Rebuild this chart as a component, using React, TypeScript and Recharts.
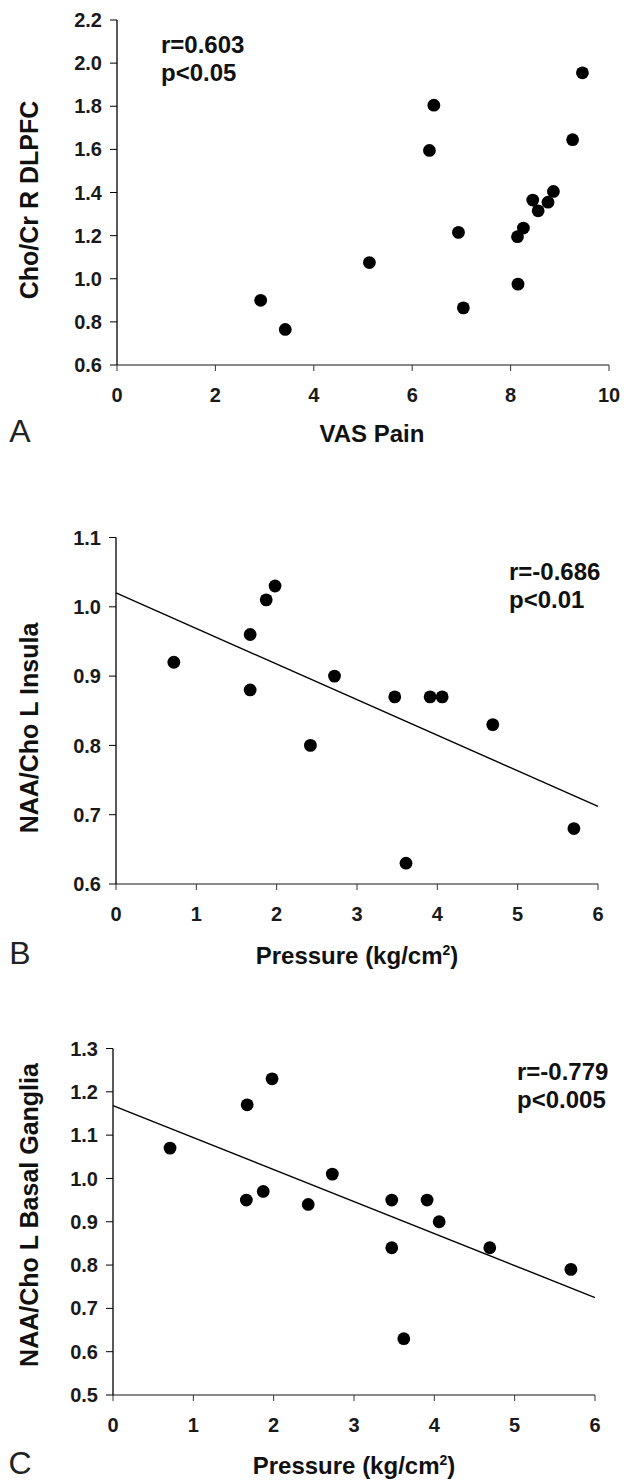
import React from "react";
import { ScatterChart, Scatter, XAxis, YAxis, ReferenceLine } from "recharts";

// Panel A: VAS pain vs Cho/Cr R DLPFC
const vasPain = [2.92, 3.42, 5.13, 6.35, 6.44, 6.94, 7.04, 8.14, 8.15, 8.26, 8.45, 8.56, 8.76, 8.87, 9.26, 9.46];
const choCrDlpfc = [0.9, 0.765, 1.075, 1.595, 1.805, 1.215, 0.865, 1.195, 0.975, 1.235, 1.365, 1.315, 1.355, 1.405, 1.645, 1.955];
const ticksA_x = [0, 2, 4, 6, 8, 10];
const ticksA_y = [0.6, 0.8, 1.0, 1.2, 1.4, 1.6, 1.8, 2.0, 2.2];

// Panel B: pressure vs NAA/Cho L insula
const pressureB = [0.72, 1.67, 1.67, 1.87, 1.98, 2.42, 2.72, 3.47, 3.61, 3.91, 4.06, 4.69, 5.7];
const naaChoInsula = [0.92, 0.96, 0.88, 1.01, 1.03, 0.8, 0.9, 0.87, 0.63, 0.87, 0.87, 0.83, 0.68];
const trendB = [{ x: 0, y: 1.02 }, { x: 6, y: 0.712 }];
const ticksB_y = [0.6, 0.7, 0.8, 0.9, 1.0, 1.1];

// Panel C: pressure vs NAA/Cho L basal ganglia
const pressureC = [0.71, 1.66, 1.67, 1.87, 1.98, 2.43, 2.73, 3.47, 3.47, 3.62, 3.91, 4.06, 4.69, 5.7];
const naaChoBasal = [1.07, 0.95, 1.17, 0.97, 1.23, 0.94, 1.01, 0.95, 0.84, 0.63, 0.95, 0.9, 0.84, 0.79];
const trendC = [{ x: 0, y: 1.168 }, { x: 6, y: 0.725 }];
const ticksC_y = [0.5, 0.6, 0.7, 0.8, 0.9, 1.0, 1.1, 1.2, 1.3];

const pressureTicks = [0, 1, 2, 3, 4, 5, 6];

const font = "'Liberation Sans', Arial, Helvetica, sans-serif";

const toPoints = (xs: number[], ys: number[]) => xs.map((x, i) => ({ x, y: ys[i] }));

const Dot = (p: any) => <circle cx={p.cx} cy={p.cy} r={6.4} fill="#000" />;

type PanelProps = {
  top: number;
  height: number;
  margin: { top: number; right: number; bottom: number; left: number };
  data: { x: number; y: number }[];
  xDomain: [number, number];
  xTicks: number[];
  yDomain: [number, number];
  yTicks: number[];
  trend?: { x: number; y: number }[];
  letter: string;
  letterY: number;
  xTitle: React.ReactNode;
  xTitleX: number;
  xTitleY: number;
  yTitle: string;
  yTitleY: number;
  stats: [string, string];
  statsX: number;
  statsY: number;
};

const tickStyle = { fill: "#1a1a1a", fontSize: 20, fontWeight: 700, fontFamily: font };

const Panel = (p: PanelProps) => (
  <div style={{ position: "absolute", left: 0, top: p.top, width: 627, height: p.height }}>
    <ScatterChart width={627} height={p.height} margin={p.margin}>
      <XAxis
        type="number"
        dataKey="x"
        domain={p.xDomain}
        ticks={p.xTicks}
        interval={0}
        allowDataOverflow
        axisLine={{ stroke: "#8a8a8a", strokeWidth: 2 }}
        tickLine={{ stroke: "#333" }}
        tickSize={6}
        tickMargin={17}
        height={50}
        tick={tickStyle}
      />
      <YAxis
        type="number"
        dataKey="y"
        domain={p.yDomain}
        ticks={p.yTicks}
        interval={0}
        allowDataOverflow
        tickFormatter={(v: number) => v.toFixed(1)}
        axisLine={{ stroke: "#000", strokeWidth: 1.3 }}
        tickLine={{ stroke: "#000" }}
        tickSize={7}
        tickMargin={8}
        width={60}
        tick={tickStyle}
      />
      {p.trend && (
        <ReferenceLine
          segment={p.trend}
          stroke="#000"
          strokeWidth={1.4}
          ifOverflow="visible"
        />
      )}
      <Scatter data={p.data} shape={Dot} isAnimationActive={false} />
    </ScatterChart>
    <svg
      width={627}
      height={p.height}
      style={{ position: "absolute", left: 0, top: 0, pointerEvents: "none" }}
      fontFamily={font}
    >
      <text x={20} y={p.letterY} fontSize={32} textAnchor="middle" fill="#222">
        {p.letter}
      </text>
      <text x={p.xTitleX} y={p.xTitleY} fontSize={24} fontWeight={700} textAnchor="middle" fill="#111">
        {p.xTitle}
      </text>
      <text
        transform={`translate(38, ${p.yTitleY}) rotate(-90)`}
        fontSize={25}
        fontWeight={700}
        textAnchor="middle"
        fill="#111"
      >
        {p.yTitle}
      </text>
      <text x={p.statsX} y={p.statsY} fontSize={24} fontWeight={700} fill="#111">
        {p.stats[0]}
      </text>
      <text x={p.statsX} y={p.statsY + 28} fontSize={24} fontWeight={700} fill="#111">
        {p.stats[1]}
      </text>
    </svg>
  </div>
);

const pressureTitle = (
  <>
    Pressure (kg/cm
    <tspan fontSize={14} dy={-9}>2</tspan>
    <tspan dy={9}>)</tspan>
  </>
);

export default function App() {
  return (
    <div style={{ position: "absolute", left: 0, top: 0, width: 627, height: 1481, background: "#fff" }}>
      <Panel
        top={0}
        height={470}
        margin={{ top: 20, right: 18, bottom: 55, left: 57 }}
        data={toPoints(vasPain, choCrDlpfc)}
        xDomain={[0, 10]}
        xTicks={ticksA_x}
        yDomain={[0.6, 2.2]}
        yTicks={ticksA_y}
        letter="A"
        letterY={442}
        xTitle="VAS Pain"
        xTitleX={372}
        xTitleY={442}
        yTitle="Cho/Cr R DLPFC"
        yTitleY={200}
        stats={["r=0.603", "p<0.05"]}
        statsX={161}
        statsY={53}
      />
      <Panel
        top={470}
        height={530}
        margin={{ top: 67.5, right: 29, bottom: 66, left: 56 }}
        data={toPoints(pressureB, naaChoInsula)}
        xDomain={[0, 6]}
        xTicks={pressureTicks}
        yDomain={[0.6, 1.1]}
        yTicks={ticksB_y}
        trend={trendB}
        letter="B"
        letterY={494}
        xTitle={pressureTitle}
        xTitleX={357}
        xTitleY={494}
        yTitle="NAA/Cho L Insula"
        yTitleY={258}
        stats={["r=-0.686", "p<0.01"]}
        statsX={509}
        statsY={110}
      />
      <Panel
        top={1000}
        height={481}
        margin={{ top: 48.5, right: 32, bottom: 36, left: 53 }}
        data={toPoints(pressureC, naaChoBasal)}
        xDomain={[0, 6]}
        xTicks={pressureTicks}
        yDomain={[0.5, 1.3]}
        yTicks={ticksC_y}
        trend={trendC}
        letter="C"
        letterY={474}
        xTitle={pressureTitle}
        xTitleX={354}
        xTitleY={474}
        yTitle="NAA/Cho L Basal Ganglia"
        yTitleY={215}
        stats={["r=-0.779", "p<0.005"]}
        statsX={517}
        statsY={80}
      />
    </div>
  );
}
